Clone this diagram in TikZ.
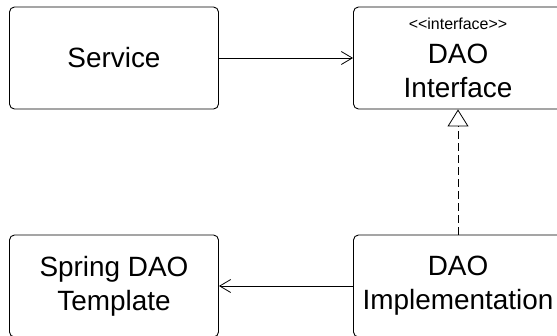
\documentclass[tikz,border=0pt]{standalone}
\usepackage{fontspec}
\setmainfont{Liberation Sans}
\usepackage{tikz}
\usetikzlibrary{arrows.meta}

\tikzset{
  cls/.style={draw, line width=0.9bp, rounded corners=5bp, minimum width=209bp, minimum height=102bp,
    align=center, inner sep=0pt, font=\fontsize{28}{34}\selectfont},
  assoc/.style={line width=0.8bp, -{Straight Barb[length=11bp, width=13bp, line width=0.8bp]}},
  realize/.style={line width=0.8bp, dash pattern=on 8bp off 4bp, -{Triangle[open, length=17bp, width=21bp, line width=0.8bp]}}
}

\begin{document}
\begin{tikzpicture}[x=1bp, y=-1bp]
      \useasboundingbox (0,0) rectangle (557,335);
      \clip (0,0) rectangle (557,335);
      \node[cls] (service) at (114, 58) {Service};
      \node[cls] (daoiface) at (458, 58) {{\fontsize{16}{18}\selectfont {<}{<}interface{>}{>}}\\DAO\\Interface};
      \node[cls] (tmpl) at (114, 286) {Spring DAO\\Template};
      \node[cls] (impl) at (458, 286) {DAO\\Implementation};

      \draw[assoc] (service) -- (daoiface);
      \draw[assoc] (impl) -- (tmpl);
      \draw[realize] (impl) -- (daoiface);
      \end{tikzpicture}
\end{document}
